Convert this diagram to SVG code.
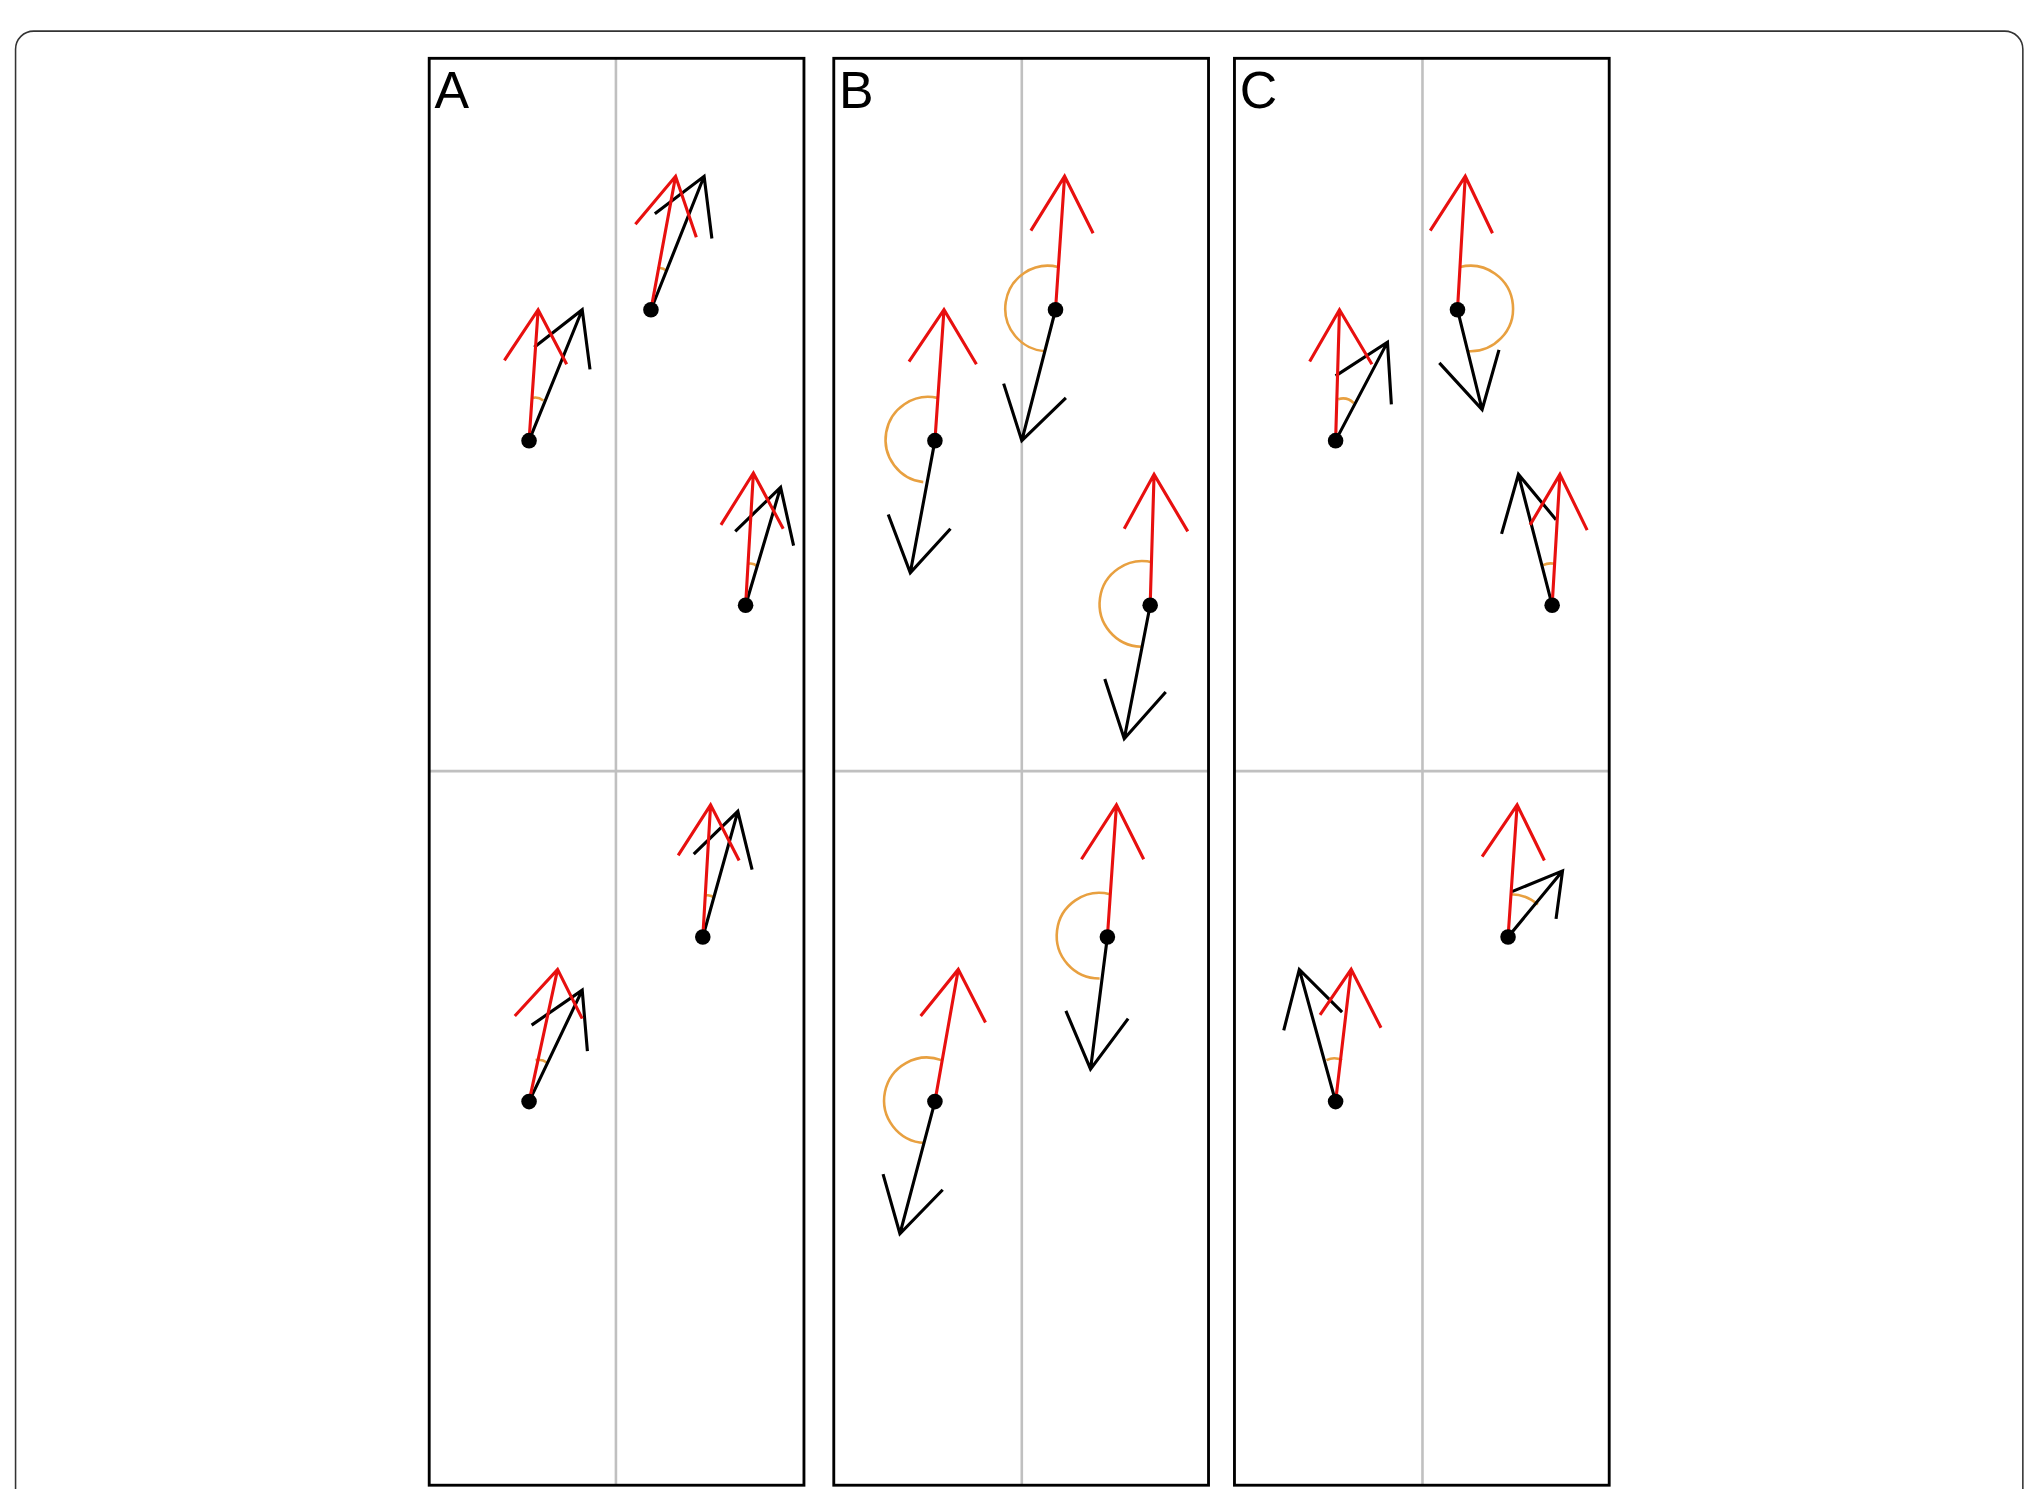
<svg xmlns="http://www.w3.org/2000/svg" width="2032" height="1489" viewBox="0 0 2032 1489">
<style>
.r{stroke:#e8100f;stroke-width:2.4;fill:none}
.k{stroke:#000;stroke-width:2.4;fill:none}
.o{stroke:#e8a040;stroke-width:2;fill:none}
.g{stroke:#c0c0c0;stroke-width:2}
.p{fill:none;stroke:#000;stroke-width:2.2}
.d{fill:#000}
text{font-family:"Liberation Sans",Arial,sans-serif;font-size:40px}
</style>
<rect width="2032" height="1489" fill="#fff"/>
<g transform="scale(1.2967,1.296)">
<rect x="12" y="24" width="1548" height="1200" rx="14" fill="none" stroke="#333" stroke-width="1.2"/>
<g id="panelA"><line class="g" x1="475" y1="45" x2="475" y2="1146"/><line class="g" x1="331" y1="595" x2="620" y2="595"/><rect class="p" x="331" y="45" width="289" height="1101"/><text x="335" y="83">A</text></g>
<g id="panelB"><line class="g" x1="788" y1="45" x2="788" y2="1146"/><line class="g" x1="643" y1="595" x2="932" y2="595"/><rect class="p" x="643" y="45" width="289" height="1101"/><text x="647" y="83">B</text></g>
<g id="panelC"><line class="g" x1="1097" y1="45" x2="1097" y2="1146"/><line class="g" x1="952" y1="595" x2="1241" y2="595"/><rect class="p" x="952" y="45" width="289" height="1101"/><text x="956" y="83">C</text></g>
<g id="connectors">
<path class="o" d="M411 307 Q415 306 419 309"/>
<path class="k" d="M408 340 L449 239 M412 268 L449 239 L455 285"/>
<path class="r" d="M408 340 L415 239 M389 278 L415 239 L437 281"/>
<path class="o" d="M507 207 Q511 206 514 209"/>
<path class="k" d="M502 239 L543 136 M505 165 L543 136 L549 184"/>
<path class="r" d="M502 239 L521 136 M490 173 L521 136 L537 183"/>
<path class="o" d="M577 435 Q581 434 584 437"/>
<path class="k" d="M575 467 L602 376 M567 410 L602 376 L612 421"/>
<path class="r" d="M575 467 L581 365 M556 405 L581 365 L604 408"/>
<path class="o" d="M544 691 Q548 690 551 693"/>
<path class="k" d="M542 723 L569 626 M535 659 L569 626 L580 671"/>
<path class="r" d="M542 723 L548 621 M523 660 L548 621 L570 664"/>
<path class="o" d="M413 818 Q418 817 422 820"/>
<path class="k" d="M408 850 L449 764 M410 791 L449 764 L453 811"/>
<path class="r" d="M408 850 L430 748 M397 784 L430 748 L449 786"/>
<path class="o" d="M723 307 A33 33 0 1 0 712 372"/>
<path class="k" d="M721 340 L702 442 M685 397 L702 442 L733 408"/>
<path class="r" d="M721 340 L728 239 M701 279 L728 239 L753 281"/>
<path class="o" d="M816 206 A33 33 0 1 0 806 271"/>
<path class="k" d="M814 239 L788 340 M774 296 L788 340 L822 307"/>
<path class="r" d="M814 239 L821 136 M795 178 L821 136 L843 180"/>
<path class="o" d="M889 434 A33 33 0 1 0 880 499"/>
<path class="k" d="M887 467 L867 570 M852 524 L867 570 L899 534"/>
<path class="r" d="M887 467 L890 366 M867 408 L890 366 L916 410"/>
<path class="o" d="M856 690 A33 33 0 1 0 848 755"/>
<path class="k" d="M854 723 L841 825 M822 780 L841 825 L870 786"/>
<path class="r" d="M854 723 L861 621 M834 663 L861 621 L882 663"/>
<path class="o" d="M726 818 A33 33 0 1 0 713 882"/>
<path class="k" d="M721 850 L694 952 M681 906 L694 952 L727 918"/>
<path class="r" d="M721 850 L739 748 M710 784 L739 748 L760 789"/>
<path class="o" d="M1032 308 Q1039 306 1044 311"/>
<path class="k" d="M1030 340 L1070 264 M1030 290 L1070 264 L1073 312"/>
<path class="r" d="M1030 340 L1033 239 M1010 279 L1033 239 L1058 281"/>
<path class="o" d="M1126 206 A33 33 0 1 1 1132 271"/>
<path class="k" d="M1124 239 L1143 316 M1110 280 L1143 316 L1156 270"/>
<path class="r" d="M1124 239 L1130 136 M1103 178 L1130 136 L1151 180"/>
<path class="o" d="M1190 436 Q1194 434 1199 435"/>
<path class="k" d="M1197 467 L1171 366 M1158 412 L1171 366 L1200 401"/>
<path class="r" d="M1197 467 L1203 366 M1180 405 L1203 366 L1224 409"/>
<path class="o" d="M1165 690 Q1177 690 1186 698"/>
<path class="k" d="M1163 723 L1205 672 M1166 688 L1205 672 L1200 709"/>
<path class="r" d="M1163 723 L1170 621 M1143 661 L1170 621 L1191 664"/>
<path class="o" d="M1023 818 Q1029 815 1035 818"/>
<path class="k" d="M1030 850 L1002 748 M990 795 L1002 748 L1035 781"/>
<path class="r" d="M1030 850 L1042 748 M1018 783 L1042 748 L1065 793"/>
</g>
<g id="dots">
<circle class="d" cx="408" cy="340" r="6"/><circle class="d" cx="502" cy="239" r="6"/><circle class="d" cx="575" cy="467" r="6"/><circle class="d" cx="542" cy="723" r="6"/><circle class="d" cx="408" cy="850" r="6"/>
<circle class="d" cx="721" cy="340" r="6"/><circle class="d" cx="814" cy="239" r="6"/><circle class="d" cx="887" cy="467" r="6"/><circle class="d" cx="854" cy="723" r="6"/><circle class="d" cx="721" cy="850" r="6"/>
<circle class="d" cx="1030" cy="340" r="6"/><circle class="d" cx="1124" cy="239" r="6"/><circle class="d" cx="1197" cy="467" r="6"/><circle class="d" cx="1163" cy="723" r="6"/><circle class="d" cx="1030" cy="850" r="6"/>
</g>
</g>
</svg>
